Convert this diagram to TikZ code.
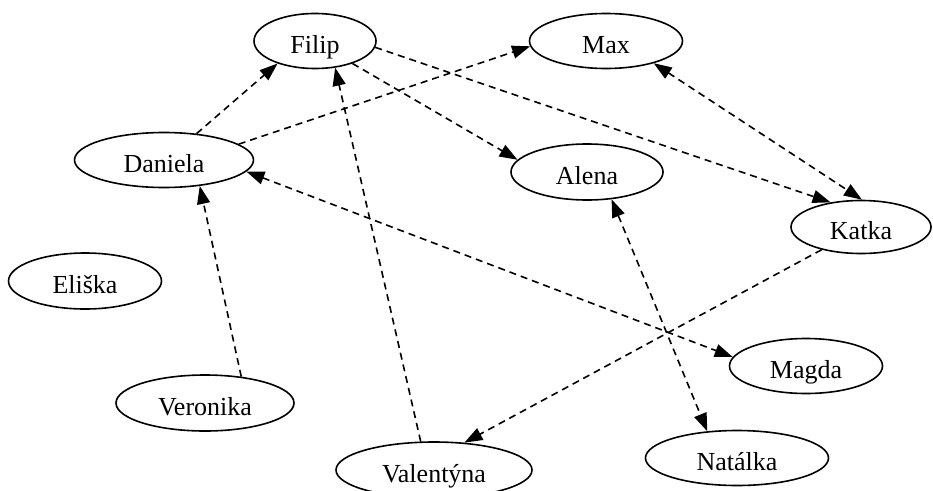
\documentclass[tikz,border=0pt]{standalone}
\usepackage{fontspec}
\setmainfont{Liberation Serif}
\usetikzlibrary{arrows.meta,shapes.geometric}
\tikzset{
  person/.style={draw, ellipse, line width=1.6pt, inner sep=0pt,
    font=\fontsize{26}{30}\selectfont, text height=24pt, text depth=0pt},
  tipshape/.tip={Triangle[length=18pt,width=13pt]},
  rel/.style={line width=1.6pt, dash pattern=on 7pt off 5pt, -tipshape},
  relboth/.style={line width=1.6pt, dash pattern=on 7pt off 5pt, tipshape-tipshape}
}
\begin{document}
\begin{tikzpicture}[x=1pt,y=-1pt]
\useasboundingbox (0,0) rectangle (933,490);
\clip (0,0) rectangle (933,490);
\node[person, minimum width=122pt, minimum height=55pt] (filip) at (315,41) {Filip};
\node[person, minimum width=153pt, minimum height=55pt] (max) at (606,41) {Max};
\node[person, minimum width=179pt, minimum height=55pt] (daniela) at (164,160) {Daniela};
\node[person, minimum width=152pt, minimum height=56pt] (alena) at (587,172) {Alena};
\node[person, minimum width=140pt, minimum height=53pt] (katka) at (861,227) {Katka};
\node[person, minimum width=153pt, minimum height=56pt] (eliska) at (85,281) {Eliška};
\node[person, minimum width=178pt, minimum height=56pt] (veronika) at (205,403) {Veronika};
\node[person, minimum width=153pt, minimum height=55pt] (magda) at (806,366) {Magda};
\node[person, minimum width=183pt, minimum height=55pt] (natalka) at (737,458) {Natálka};
\node[person, minimum width=196pt, minimum height=56pt] (valentyna) at (434,470) {Valentýna};

\draw[rel] (daniela.39) -- (filip.211);
\draw[rel] (daniela.12) -- (max.184);
\draw[rel] (filip.-31) -- (alena.170);
\draw[rel] (filip.-6) -- (katka.141);
\draw[relboth] (max.-25) -- (katka.88);
\draw[rel] (valentyna.115) -- (filip.-53);
\draw[rel] (veronika.36) -- (daniela.-36);
\draw[relboth] (daniela.-8) -- (magda.173);
\draw[rel] (katka.210) -- (valentyna.42);
\draw[relboth] (alena.-48) -- (natalka.138);
\end{tikzpicture}
\end{document}
